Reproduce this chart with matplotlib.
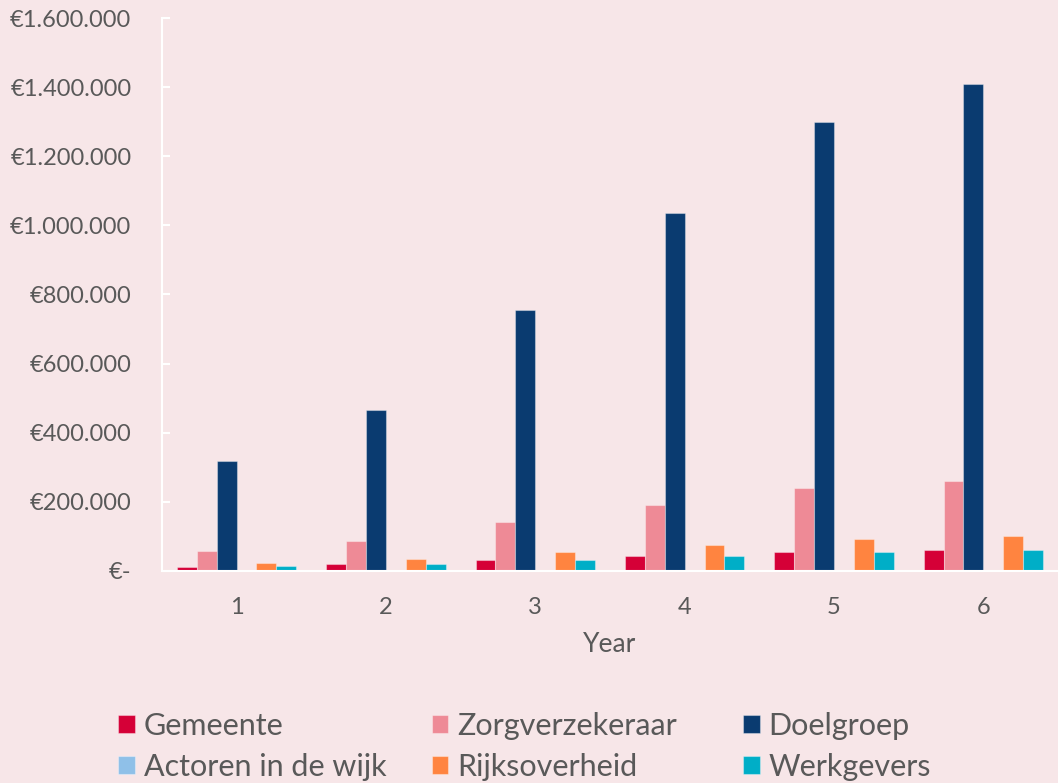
import numpy as np
import matplotlib
matplotlib.use("Agg")
import matplotlib.pyplot as plt
from matplotlib.ticker import FuncFormatter

# data
years = [1, 2, 3, 4, 5, 6]
series = ["Gemeente", "Zorgverzekeraar", "Doelgroep",
          "Actoren in de wijk", "Rijksoverheid", "Werkgevers"]
gemeente = [12000, 19000, 32000, 43000, 53000, 59000]
zorgverzekeraar = [58000, 86000, 140000, 190000, 240000, 260000]
doelgroep = [318000, 466000, 756000, 1036000, 1300000, 1410000]
actoren = [0, 0, 0, 0, 0, 0]
rijksoverheid = [22000, 35000, 55000, 75000, 93500, 102000]
werkgevers = [12500, 19000, 32000, 43000, 53000, 59000]

kleuren = ["#D50037", "#EE8A96", "#0A3B70", "#8FC0E8", "#FF8440", "#00AEC7"]
bg = "#F7E6E8"
grijs = "#595959"

plt.rcParams['font.family'] = ['Lato', 'DejaVu Sans']

fig = plt.figure(figsize=(10.58, 7.83), dpi=100, facecolor=bg)
ax = fig.add_axes([0.153, 0.271, 0.847, 0.706], facecolor=bg)

x = np.array(years)
w = 0.1333
data = [gemeente, zorgverzekeraar, doelgroep, actoren, rijksoverheid, werkgevers]
handles = []
for i, (naam, vals) in enumerate(zip(series, data)):
    b = ax.bar(x + (i - 2.5) * w, vals, w, color=kleuren[i], label=naam,
               edgecolor=(1, 1, 1, 0.35), linewidth=0.8)
    handles.append(b)

ax.set_xlim(0.5, 6.5)
ax.set_ylim(0, 1600000)
ax.set_yticks(np.arange(0, 1600001, 200000))
ax.yaxis.set_major_formatter(FuncFormatter(
    lambda v, p: "€-" if v == 0 else "€" + f"{int(v):,}".replace(",", ".")))
ax.set_xticks(years)
ax.set_xticklabels([str(y) for y in years])

for s in ["top", "right"]:
    ax.spines[s].set_visible(False)
for s in ["left", "bottom"]:
    ax.spines[s].set_color("white")
    ax.spines[s].set_linewidth(1.5)
ax.tick_params(axis="y", direction="in", length=6, color="white", width=1.5,
               labelsize=17, labelcolor=grijs, pad=22)
ax.tick_params(axis="x", length=0, labelsize=17, labelcolor=grijs, pad=19)
ax.set_xlabel("Year", fontsize=19, color=grijs, labelpad=10)

# legenda: drie kolommen, elk een eigen legend
kolom_x = [0.1115, 0.408, 0.702]
for k in range(3):
    idx = [k, k + 3]
    fig.legend([handles[i] for i in idx], [series[i] for i in idx],
               ncol=1, loc="upper left", bbox_to_anchor=(kolom_x[k], 0.091),
               frameon=False, fontsize=22, labelcolor=grijs,
               handlelength=0.55, handleheight=0.55, handletextpad=0.3,
               labelspacing=0.42, borderpad=0, borderaxespad=0)

fig.savefig("out.png", dpi=100, facecolor=bg)
